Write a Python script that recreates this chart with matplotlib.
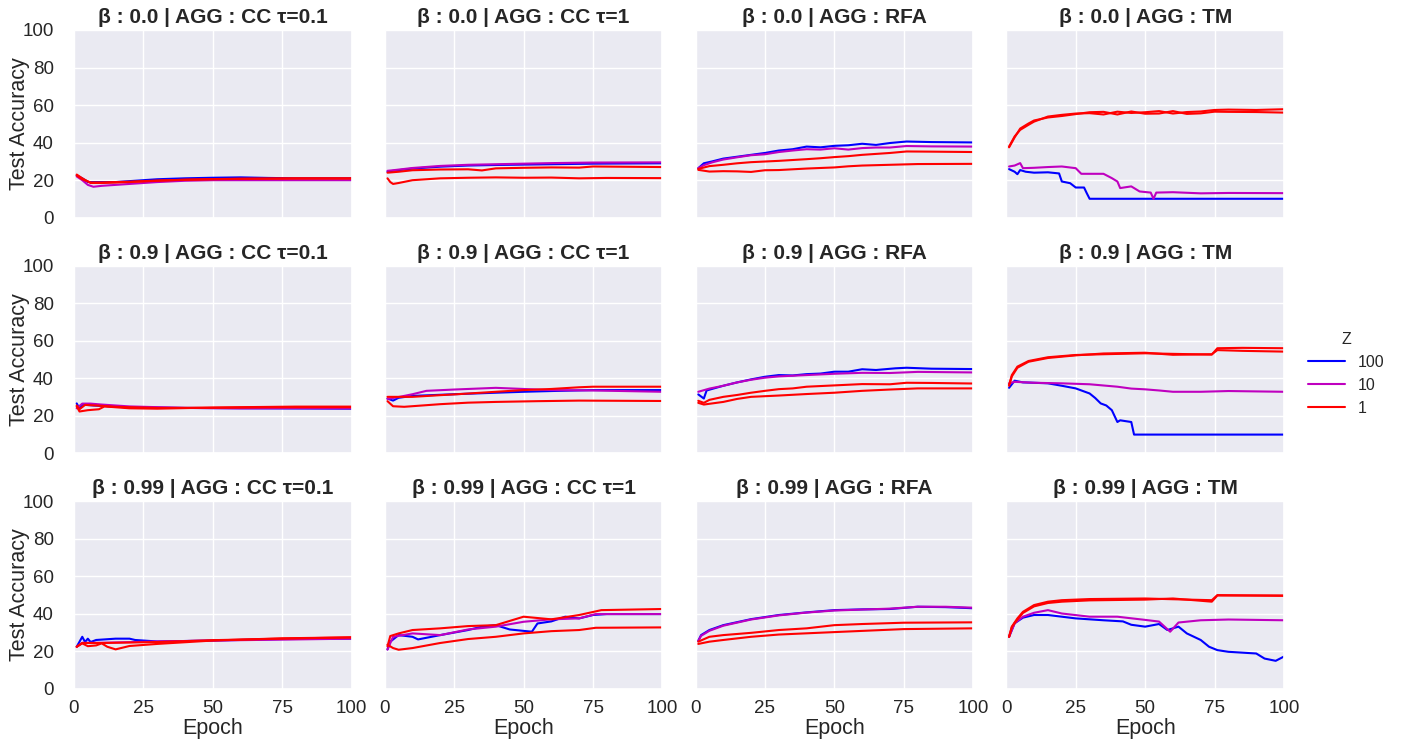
import matplotlib
matplotlib.use("Agg")
import matplotlib.pyplot as plt
import seaborn as sns

# ---------------- data (epoch, test accuracy) ----------------
betas = ["0.0", "0.9", "0.99"]
aggs = ["CC τ=0.1", "CC τ=1", "RFA", "TM"]
z_levels = ["100", "10", "1"]
z_colors = {"100": (0.0, 0.0, 1.0), "10": (0.75, 0.0, 0.75), "1": (1.0, 0.0, 0.0)}
x_ticks = [0, 25, 50, 75, 100]
y_ticks = [0, 20, 40, 60, 80, 100]

# beta 0.0
b00_cc01_z100 = [(1, 22.5), (3, 21), (5, 19), (10, 19), (15, 19), (20, 19.5), (30, 20.5), (40, 21), (50, 21.3), (60, 21.5), (70, 21.2), (80, 21), (100, 21)]
b00_cc01_z10 = [(1, 22), (3, 20), (5, 17.5), (7, 16.5), (10, 17), (15, 17.5), (20, 18), (30, 19), (40, 19.7), (50, 20), (60, 20), (80, 20), (100, 20)]
b00_cc01_z1a = [(1, 23), (3, 21), (6, 18.5), (10, 18.5), (20, 19), (30, 19.7), (40, 20.3), (50, 20.6), (60, 20.8), (80, 21), (100, 21)]
b00_cc01_z1b = [(1, 22.5), (3, 20.5), (6, 18.8), (10, 18.8), (20, 19.2), (30, 19.8), (40, 20.2), (50, 20.5), (60, 20.7), (80, 20.9), (100, 20.9)]

b00_cc1_z100 = [(1, 24.5), (3, 25), (10, 26.2), (20, 27.2), (30, 27.8), (40, 28.1), (50, 28.3), (60, 28.5), (75, 28.8), (100, 29)]
b00_cc1_z10 = [(1, 25), (3, 25.3), (10, 26.5), (20, 27.6), (30, 28.2), (40, 28.5), (50, 28.8), (60, 29.1), (75, 29.4), (100, 29.5)]
b00_cc1_z1a = [(1, 24), (5, 24.5), (10, 25.3), (20, 25.7), (30, 25.8), (35, 25.2), (40, 26.3), (50, 26.6), (60, 26.8), (70, 26.7), (75, 27.3), (100, 27)]
b00_cc1_z1b = [(1, 21), (2, 19), (3, 18), (5, 18.5), (10, 20), (20, 21), (30, 21.3), (40, 21.5), (50, 21.3), (60, 21.4), (70, 21), (80, 21.2), (100, 21.1)]

b00_rfa_z100 = [(1, 26.4), (3, 29), (6, 30), (10, 31.5), (15, 32.5), (20, 33.5), (25, 34.5), (30, 35.8), (35, 36.5), (40, 37.9), (45, 37.5), (50, 38.3), (55, 38.6), (60, 39.4), (65, 38.8), (70, 39.8), (76, 40.6), (85, 40.3), (100, 40.1)]
b00_rfa_z10 = [(1, 26.4), (3, 28), (6, 29.5), (10, 31), (15, 32.2), (20, 33.3), (25, 33.8), (30, 35), (35, 35.8), (40, 36.5), (45, 36.3), (50, 37), (55, 36.3), (60, 37.1), (65, 37.4), (70, 37.4), (76, 38.2), (85, 38), (100, 37.9)]
b00_rfa_z1a = [(1, 26), (5, 27.5), (10, 28.2), (15, 29), (20, 29.6), (30, 30.3), (40, 31.2), (45, 31.7), (50, 32.3), (55, 32.8), (60, 33.5), (65, 34), (70, 34.5), (76, 35.3), (85, 35.2), (100, 35)]
b00_rfa_z1b = [(1, 25.5), (5, 24.6), (10, 24.8), (15, 24.7), (20, 24.4), (25, 25.3), (30, 25.4), (40, 26.2), (50, 26.8), (55, 27.4), (60, 27.8), (70, 28.2), (80, 28.6), (100, 28.7)]

b00_tm_z100 = [(1, 25.9), (3, 24.5), (4, 23.2), (5, 25.4), (7, 24.5), (10, 24), (15, 24.2), (19, 23.6), (20, 19.3), (23, 18.4), (25, 16.1), (28, 16.1), (29, 13), (30, 10.1), (100, 10.1)]
b00_tm_z10 = [(1, 27.3), (3, 27.8), (5, 29.1), (6, 26.4), (10, 26.6), (15, 27), (20, 27.3), (25, 26.4), (27, 23.4), (35, 23.4), (38, 21.1), (40, 19.3), (41, 15.8), (45, 16.7), (48, 14), (52, 13.4), (53, 10.1), (54, 13.4), (60, 13.6), (70, 13), (80, 13.2), (100, 13.1)]
b00_tm_z1a = [(1, 37.9), (3, 43.3), (5, 46.8), (8, 49.5), (10, 51.2), (15, 53.9), (20, 54.8), (25, 55.5), (30, 55.7), (35, 55), (40, 56.5), (45, 55.8), (50, 56.2), (55, 56.8), (60, 55.5), (65, 56.3), (70, 56.6), (75, 57.4), (80, 57.6), (90, 57.4), (100, 57.8)]
b00_tm_z1b = [(1, 37.5), (3, 42.8), (5, 47.5), (8, 50.2), (10, 51.8), (15, 53.4), (20, 54.2), (25, 55.2), (30, 56.2), (35, 56.4), (40, 55), (45, 56.6), (50, 55.4), (55, 55.5), (60, 56.8), (65, 55.3), (70, 55.6), (75, 56.5), (80, 56.4), (90, 56.3), (100, 56)]

# beta 0.9
b09_cc01_z100 = [(1, 26.6), (2, 23.9), (3, 26), (7, 25.5), (20, 24.5), (40, 24.2), (60, 24), (80, 23.9), (100, 23.8)]
b09_cc01_z10 = [(1, 24), (3, 26.5), (6, 26.5), (10, 26), (20, 25), (40, 24.2), (60, 24), (80, 24.1), (100, 24)]
b09_cc01_z1a = [(1, 25), (2, 22.3), (5, 23), (9, 23.5), (11, 25), (20, 24), (30, 23.8), (40, 24.1), (50, 24.4), (60, 24.6), (80, 24.9), (100, 24.9)]
b09_cc01_z1b = [(1, 25.5), (2, 23.5), (4, 25.8), (8, 25.5), (15, 24.8), (30, 24.2), (50, 24.3), (70, 24.5), (100, 24.6)]

b09_cc1_z100 = [(1, 29.2), (3, 28.1), (5, 29.6), (10, 30.6), (25, 31.5), (40, 32.3), (50, 32.8), (60, 33.2), (75, 33.7), (100, 33.7)]
b09_cc1_z10 = [(1, 29), (5, 30), (10, 31.5), (15, 33.3), (25, 34), (40, 34.9), (50, 34.3), (60, 33.7), (75, 33.5), (100, 32.8)]
b09_cc1_z1a = [(1, 30.1), (10, 30.1), (20, 31), (25, 31.4), (40, 32.8), (50, 33.7), (60, 34.3), (70, 35.2), (75, 35.5), (100, 35.5)]
b09_cc1_z1b = [(1, 27.8), (3, 25.1), (7, 24.8), (20, 26.2), (30, 27), (40, 27.4), (55, 27.8), (70, 28.1), (100, 27.9)]

b09_rfa_z100 = [(1, 31.4), (3, 29.2), (4, 33.5), (10, 36), (15, 37.8), (20, 39.4), (25, 40.8), (30, 41.7), (35, 41.5), (40, 42.2), (45, 42.5), (50, 43.5), (55, 43.5), (60, 44.8), (65, 44.4), (72, 45.3), (76, 45.6), (85, 45.1), (100, 44.9)]
b09_rfa_z10 = [(1, 32.8), (5, 34.5), (10, 36), (15, 37.8), (20, 39.2), (25, 40.3), (30, 41), (40, 41.7), (50, 42.4), (60, 42.9), (70, 42.8), (80, 43.4), (100, 43.1)]
b09_rfa_z1a = [(1, 28), (3, 26.9), (5, 28.5), (10, 30.1), (15, 31.1), (20, 32.3), (25, 33.3), (30, 34.2), (35, 34.6), (40, 35.5), (50, 36.2), (60, 36.9), (70, 36.8), (76, 37.6), (85, 37.5), (100, 37.2)]
b09_rfa_z1b = [(1, 26.9), (3, 26), (10, 27.4), (15, 29), (20, 30.1), (30, 30.8), (40, 31.6), (50, 32.3), (60, 33.3), (70, 34), (80, 34.6), (100, 34.6)]

b09_tm_z100 = [(1, 34.9), (3, 38.7), (6, 37.8), (10, 37.6), (15, 37.3), (20, 36), (25, 34.6), (30, 31.9), (32, 29.5), (34, 26.6), (36, 25.5), (38, 23), (40, 16.7), (41, 17.6), (45, 16.7), (46, 10), (100, 10)]
b09_tm_z10 = [(1, 37.3), (3, 38.1), (10, 37.6), (20, 37.3), (30, 36.8), (40, 35.5), (45, 34.5), (50, 34.1), (55, 33.5), (60, 32.8), (70, 32.8), (80, 33.2), (100, 32.8)]
b09_tm_z1a = [(1, 36.4), (2, 41.7), (4, 46.2), (8, 49.2), (15, 51.2), (25, 52.4), (35, 52.8), (50, 53.3), (60, 53), (74, 52.6), (76, 56), (85, 56.2), (100, 56)]
b09_tm_z1b = [(1, 36), (2, 41), (4, 45.6), (8, 48.8), (15, 50.8), (25, 52.2), (35, 53.2), (50, 53.6), (60, 52.5), (74, 52.8), (76, 55), (85, 54.6), (100, 54.2)]

# beta 0.99
b099_cc01_z100 = [(1, 22.5), (3, 27.8), (4, 25), (5, 26.8), (6, 25), (8, 26.1), (15, 26.8), (20, 26.8), (22, 26.1), (30, 25.3), (50, 25.8), (75, 26.6), (100, 26.8)]
b099_cc01_z10 = [(1, 22.5), (3, 24.6), (10, 24.6), (30, 25.3), (50, 25.8), (75, 26.3), (100, 26.8)]
b099_cc01_z1a = [(1, 22.5), (3, 24.3), (5, 22.8), (8, 23.2), (10, 24.3), (12, 22.5), (15, 21.1), (20, 22.9), (30, 24), (50, 25.8), (75, 27), (100, 27.5)]
b099_cc01_z1b = [(1, 22.5), (3, 24.5), (10, 24.5), (30, 25), (50, 26), (75, 26.8), (100, 27.5)]

b099_cc1_z100 = [(1, 21.1), (2, 25.2), (5, 28.7), (10, 27.8), (12, 26.4), (20, 28.7), (30, 31.4), (35, 33.2), (40, 34), (45, 31.7), (53, 30.5), (55, 34.9), (60, 36), (65, 38.5), (70, 37.6), (75, 39.4), (80, 39.9), (100, 39.9)]
b099_cc1_z10 = [(1, 21), (3, 27.8), (10, 29.6), (20, 28.7), (30, 31.7), (40, 33.2), (50, 35.8), (60, 37.1), (70, 37.6), (76, 39.9), (100, 39.9)]
b099_cc1_z1a = [(1, 22.7), (2, 28.2), (5, 29.6), (10, 31.4), (20, 32.3), (30, 33.5), (40, 34), (50, 38.5), (60, 37.1), (70, 39.4), (78, 42), (100, 42.6)]
b099_cc1_z1b = [(1, 23.6), (3, 21.8), (5, 20.9), (10, 21.8), (20, 24.5), (30, 26.6), (40, 27.8), (50, 29.6), (60, 30.8), (70, 31.4), (76, 32.6), (100, 32.8)]

b099_rfa_z100 = [(1, 25.7), (2, 28.7), (5, 31.4), (10, 34), (20, 37.2), (30, 39.4), (40, 40.8), (50, 42), (60, 42.4), (70, 42.6), (80, 43.8), (90, 43.6), (100, 43)]
b099_rfa_z10 = [(1, 25.5), (2, 28.3), (5, 31), (10, 33.7), (20, 37), (30, 39.2), (40, 40.7), (50, 41.8), (60, 42.3), (70, 42.8), (80, 43.8), (90, 43.8), (100, 43.3)]
b099_rfa_z1a = [(1, 25.2), (5, 27.8), (10, 28.7), (20, 29.9), (30, 31.4), (40, 32.3), (50, 34), (60, 34.6), (75, 35.3), (100, 35.5)]
b099_rfa_z1b = [(1, 24), (5, 25.2), (10, 26.1), (20, 27.8), (30, 29), (50, 30.3), (75, 31.9), (100, 32.3)]

b099_tm_z100 = [(1, 27.8), (3, 35), (6, 38), (10, 39.4), (15, 39.4), (25, 37.6), (35, 36.6), (42, 36), (45, 34.2), (50, 33.2), (55, 34.6), (58, 31.4), (62, 33.2), (65, 29.6), (70, 26.1), (73, 22.5), (76, 20.7), (80, 19.8), (90, 18.9), (93, 16.2), (97, 15), (100, 17.3)]
b099_tm_z10 = [(1, 27.8), (3, 35), (6, 38.5), (10, 40.6), (15, 42), (20, 40.2), (30, 38.5), (40, 38.5), (50, 36.8), (55, 35.9), (59, 30.5), (62, 35.4), (70, 36.6), (80, 37), (100, 36.6)]
b099_tm_z1a = [(1, 27.8), (2, 33.2), (4, 37.6), (6, 41.1), (10, 44.7), (15, 46.5), (20, 47.3), (30, 47.9), (50, 48.2), (60, 47.8), (74, 47.3), (76, 50), (100, 49.6)]
b099_tm_z1b = [(1, 27.8), (2, 33), (4, 37), (6, 40.5), (10, 44), (15, 45.8), (20, 46.5), (30, 47.2), (50, 47.6), (60, 48.2), (74, 46.5), (76, 49.8), (100, 49.8)]

panels = [
    [[b00_cc01_z100, b00_cc01_z10, b00_cc01_z1a, b00_cc01_z1b],
     [b00_cc1_z100, b00_cc1_z10, b00_cc1_z1a, b00_cc1_z1b],
     [b00_rfa_z100, b00_rfa_z10, b00_rfa_z1a, b00_rfa_z1b],
     [b00_tm_z100, b00_tm_z10, b00_tm_z1a, b00_tm_z1b]],
    [[b09_cc01_z100, b09_cc01_z10, b09_cc01_z1a, b09_cc01_z1b],
     [b09_cc1_z100, b09_cc1_z10, b09_cc1_z1a, b09_cc1_z1b],
     [b09_rfa_z100, b09_rfa_z10, b09_rfa_z1a, b09_rfa_z1b],
     [b09_tm_z100, b09_tm_z10, b09_tm_z1a, b09_tm_z1b]],
    [[b099_cc01_z100, b099_cc01_z10, b099_cc01_z1a, b099_cc01_z1b],
     [b099_cc1_z100, b099_cc1_z10, b099_cc1_z1a, b099_cc1_z1b],
     [b099_rfa_z100, b099_rfa_z10, b099_rfa_z1a, b099_rfa_z1b],
     [b099_tm_z100, b099_tm_z10, b099_tm_z1a, b099_tm_z1b]],
]
series_z = ["100", "10", "1", "1"]

# ---------------- plotting ----------------
sns.set_theme(style="darkgrid")
plt.rcParams["font.family"] = ["Liberation Sans", "DejaVu Sans"]
text_col = "#262626"

fig, axes = plt.subplots(3, 4, figsize=(14.03, 7.48), dpi=100, sharex=True, sharey=True)
fig.subplots_adjust(left=0.0527, right=0.9152, top=0.9599, bottom=0.0789,
                    wspace=0.119, hspace=0.255)

for r, beta in enumerate(betas):
    for c, agg in enumerate(aggs):
        ax = axes[r, c]
        for s, z in zip(panels[r][c], series_z):
            xs = [p[0] for p in s]
            ys = [p[1] for p in s]
            ax.plot(xs, ys, color=z_colors[z], lw=1.5)
        ax.set_xlim(0, 100)
        ax.set_ylim(0, 100)
        ax.set_xticks(x_ticks)
        ax.set_yticks(y_ticks)
        ax.tick_params(axis="x", labelsize=13.5, colors=text_col, pad=2)
        ax.tick_params(axis="y", labelsize=13.5, colors=text_col, pad=8.5)
        ax.set_title(f"β : {beta} | AGG : {agg}", fontsize=15, fontweight="bold",
                     color=text_col, pad=5)
        if c == 0:
            ax.set_ylabel("Test Accuracy", fontsize=15.5, color=text_col)
            ax.yaxis.set_label_coords(-0.158, 0.5)
        if r == 2:
            ax.set_xlabel("Epoch", fontsize=15.5, color=text_col, labelpad=1)

handles = [plt.Line2D([], [], color=z_colors[z], lw=1.5) for z in z_levels]
leg = fig.legend(handles, z_levels, title="Z", loc="center left",
                 bbox_to_anchor=(0.922, 0.5), frameon=False, fontsize=11.5,
                 title_fontsize=11.5, handlelength=2.3)
for t in leg.get_texts():
    t.set_color(text_col)
leg.get_title().set_color(text_col)

fig.savefig("out.png", dpi=100)
